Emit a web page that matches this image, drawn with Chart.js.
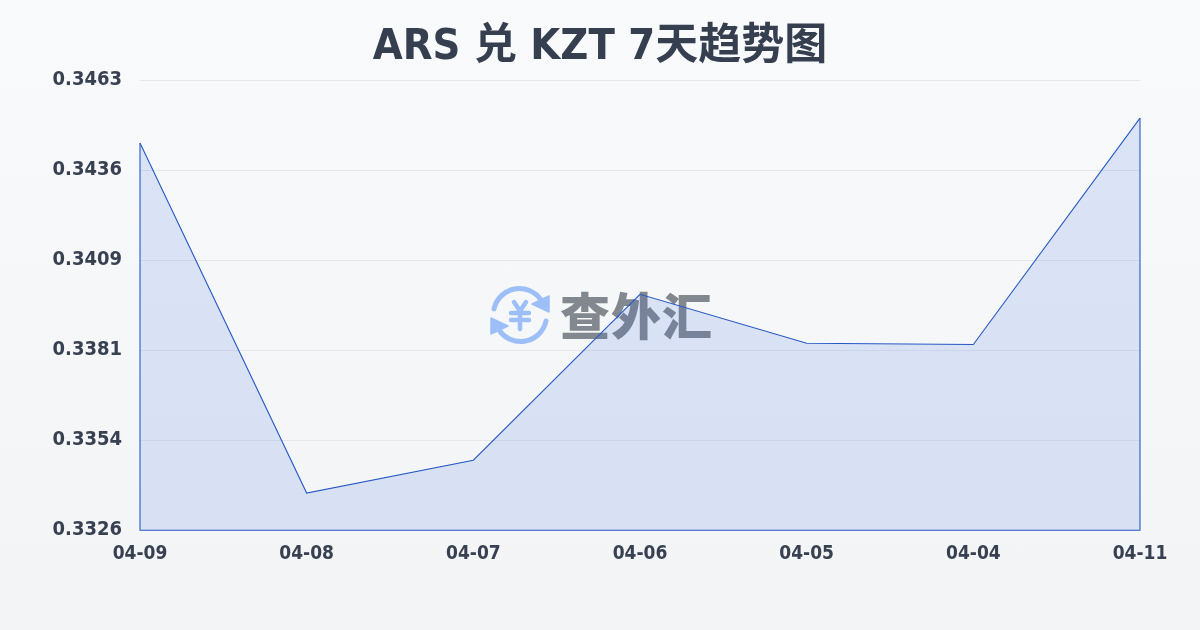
<!DOCTYPE html>
<html lang="zh">
<head>
<meta charset="utf-8">
<style>
html,body{margin:0;padding:0;width:1200px;height:630px;overflow:hidden}
body{position:relative;background:linear-gradient(180deg,#f8fafc 0%,#f3f4f6 100%)}
#wm{position:absolute;left:488px;top:284px;width:230px;height:62px}
#wm svg{position:absolute;left:0;top:0}
#wmt{position:absolute;left:72px;top:-7px;font:900 50px/72px "Noto Sans CJK SC";color:#6f757d;opacity:.85;white-space:nowrap;letter-spacing:1px}
canvas{position:absolute;left:0;top:0}
</style>
<script src="https://cdn.jsdelivr.net/npm/chart.js@4"></script>
</head>
<body>
<div id="wm">
<svg width="64" height="62" viewBox="0 0 64 62" fill="none" stroke="#9dbff8" stroke-width="5" stroke-linecap="round" stroke-linejoin="round">
<path d="M6 25 A26 26 0 0 1 53 16"/>
<path d="M58 37 A26 26 0 0 1 11 46"/>
<path d="M61 12 L61 28 L44 20 Z" fill="#9dbff8" stroke-width="1.5"/>
<path d="M3 34 L3 50 L20 42 Z" fill="#9dbff8" stroke-width="1.5"/>
<path d="M26 18 L32 27 L38 18 M23 29 H41 M23 36 H41 M32 27 V45" stroke-width="4.5"/>
</svg>
<div id="wmt">查外汇</div>
</div>
<canvas id="c" width="1200" height="630"></canvas>
<script>
const categories = ["04-09","04-08","04-07","04-06","04-05","04-04","04-11"];
const rates = [0.34442,0.33377,0.33477,0.33982,0.33833,0.33829,0.34518];
const yTickLabels = ["0.3326","0.3354","0.3381","0.3409","0.3436","0.3463"];
const titleText = "ARS 兑 KZT 7天趋势图";
const yMin = 0.33264, yMax = 0.34634, yStep = 0.00274;
const lineColor = "#2659c4";
const labelFont = '"DejaVu Sans Condensed","DejaVu Sans","Noto Sans CJK SC"';

const closeArea = {
  id:"closeArea",
  afterDatasetsDraw(chart){
    const {ctx,scales:{x,y}} = chart;
    const last = categories.length-1;
    ctx.save();
    ctx.strokeStyle = lineColor; ctx.lineWidth = 1.1;
    ctx.beginPath();
    ctx.moveTo(x.getPixelForValue(0), y.getPixelForValue(rates[0]));
    ctx.lineTo(x.getPixelForValue(0), y.bottom);
    ctx.lineTo(x.getPixelForValue(last), y.bottom);
    ctx.lineTo(x.getPixelForValue(last), y.getPixelForValue(rates[last]));
    ctx.stroke();
    ctx.restore();
  }
};

new Chart(document.getElementById("c"),{
  type:"line",
  data:{labels:categories,datasets:[{
    data:rates,borderColor:lineColor,borderWidth:1.1,tension:0,pointRadius:0,
    fill:"start",backgroundColor:"rgba(59,110,220,0.15)"
  }]},
  plugins:[closeArea],
  options:{
    responsive:false,animation:false,
    layout:{padding:{top:0,left:0,right:0,bottom:61}},
    plugins:{
      legend:{display:false},tooltip:{enabled:false},
      title:{display:true,text:titleText,color:"#353f50",
        font:{family:labelFont,size:43,weight:"700",lineHeight:1},
        padding:{top:26,bottom:11}}
    },
    scales:{
      x:{
        grid:{display:false},border:{display:false},
        ticks:{color:"#374151",font:{family:labelFont,size:19,weight:"700"},padding:4,maxRotation:0,autoSkip:false}
      },
      y:{
        min:yMin,max:yMax,
        afterFit(s){s.width=140;},
        grid:{color:"#e5e7eb",lineWidth:1,drawTicks:false},border:{display:false},
        ticks:{stepSize:yStep,padding:18,color:"#374151",
          font:{family:labelFont,size:20,weight:"700"},
          callback:(v,i)=>yTickLabels[i]}
      },
      rightGutter:{
        type:"linear",position:"right",
        afterFit(s){s.width=60;},
        grid:{display:false},border:{display:false},ticks:{display:false}
      }
    }
  }
});
</script>
</body>
</html>
